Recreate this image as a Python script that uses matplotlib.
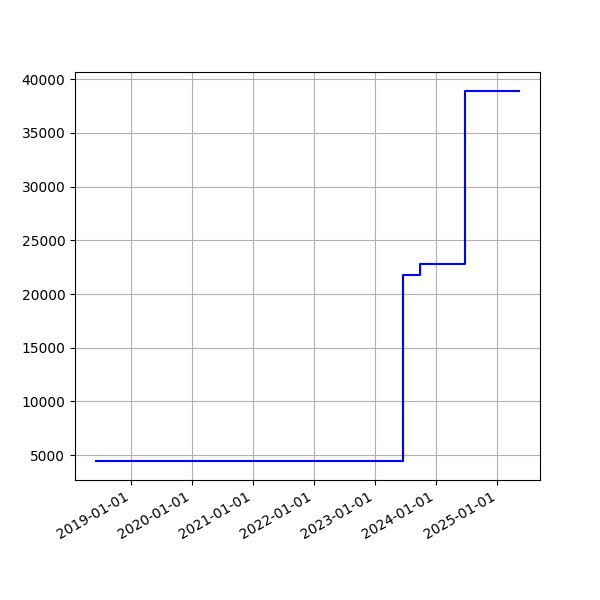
import matplotlib
matplotlib.use("Agg")
import matplotlib.pyplot as plt
import matplotlib.dates as mdates
import pandas as pd

dates = ["2018-06-08", "2023-06-16", "2023-09-29", "2024-06-24", "2025-05-10"]
values = [4410, 21750, 22810, 38950, 38950]

x = pd.to_datetime(dates)
fig, ax = plt.subplots(figsize=(6, 6), dpi=100)
ax.step(x, values, where="post", color="blue")
ax.xaxis.set_major_locator(mdates.YearLocator())
ax.xaxis.set_major_formatter(mdates.DateFormatter("%Y-%m-%d"))
ax.grid(True)
fig.autofmt_xdate()
fig.savefig("out.png")
